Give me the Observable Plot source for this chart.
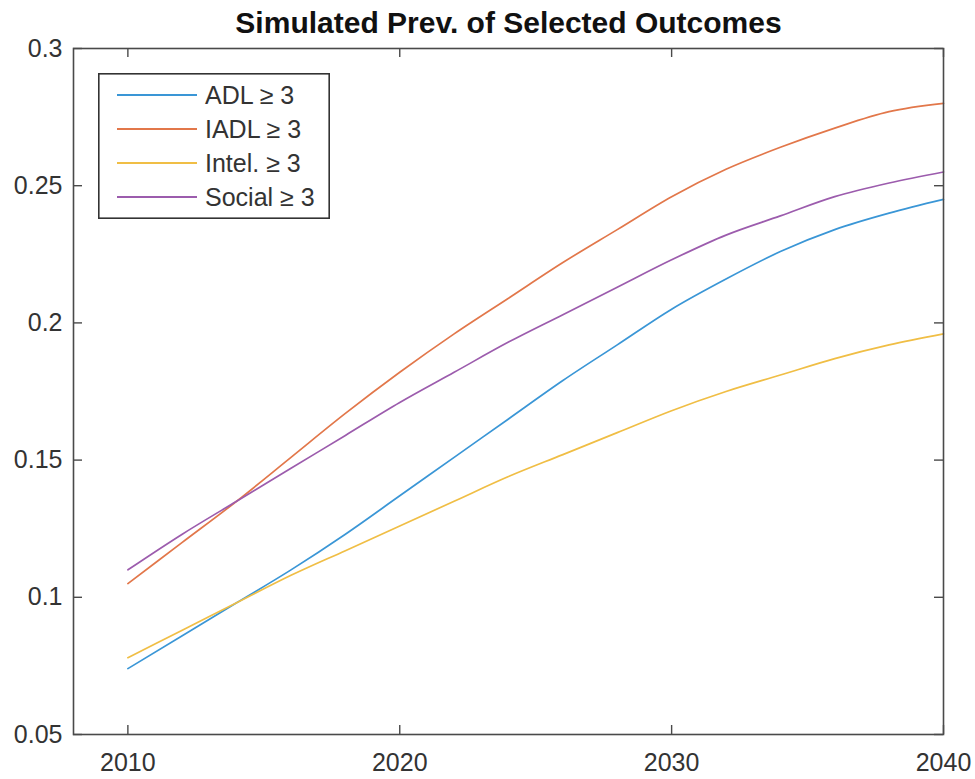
<!DOCTYPE html>
<html>
<head>
<meta charset="utf-8">
<script src="https://cdn.jsdelivr.net/npm/d3@7"></script>
<script src="https://cdn.jsdelivr.net/npm/@observablehq/plot@0.6"></script>
<style>
  html, body { margin: 0; padding: 0; background: #fff; }
  #wrap { position: relative; width: 975px; height: 779px; }
  #legend { position: absolute; left: 98px; top: 73px; }
</style>
</head>
<body>
<div id="wrap"></div>
<script>
const titleText = "Simulated Prev. of Selected Outcomes";
const years = [2010, 2012, 2014, 2016, 2018, 2020, 2022, 2024, 2026, 2028, 2030, 2032, 2034, 2036, 2038, 2040];
const adl    = [0.074, 0.086, 0.098, 0.110, 0.123, 0.137, 0.151, 0.165, 0.179, 0.192, 0.205, 0.216, 0.226, 0.234, 0.240, 0.245];
const iadl   = [0.105, 0.120, 0.135, 0.151, 0.167, 0.182, 0.196, 0.209, 0.222, 0.234, 0.246, 0.256, 0.264, 0.271, 0.277, 0.280];
const intel  = [0.078, 0.088, 0.098, 0.108, 0.117, 0.126, 0.135, 0.144, 0.152, 0.160, 0.168, 0.175, 0.181, 0.187, 0.192, 0.196];
const social = [0.110, 0.123, 0.135, 0.147, 0.159, 0.171, 0.182, 0.193, 0.203, 0.213, 0.223, 0.232, 0.239, 0.246, 0.251, 0.255];
const seriesNames = ["ADL \u2265 3", "IADL \u2265 3", "Intel. \u2265 3", "Social \u2265 3"];
const seriesColors = ["#3a96d6", "#e2774a", "#f0be45", "#9c5cad"];
const xTicks = [2010, 2020, 2030, 2040];
const yTicks = [0.05, 0.1, 0.15, 0.2, 0.25, 0.3];

const seriesValues = [adl, iadl, intel, social];
const data = seriesNames.flatMap((name, s) =>
  years.map((yr, i) => ({year: yr, value: seriesValues[s][i], series: name})));

const W = 975, H = 779;
const mL = 73, mR = 32, mT = 48, mB = 45;
const innerW = W - mL - mR, innerH = H - mT - mB;
const tickLen = 9;
const axisColor = "#4a4a4a";
const fontFam = "'Liberation Sans', Arial, Helvetica, sans-serif";

const plot = Plot.plot({
  width: W, height: H,
  marginLeft: mL, marginRight: mR, marginTop: mT, marginBottom: mB,
  x: {domain: [2008, 2040]},
  y: {domain: [0.05, 0.3]},
  color: {domain: seriesNames, range: seriesColors},
  style: {fontFamily: fontFam, fontSize: "25px", color: "#333", background: "#fff", overflow: "visible"},
  marks: [
    Plot.line(data, {x: "year", y: "value", stroke: "series", strokeWidth: 1.7, curve: "monotone-x"}),
    Plot.frame({stroke: axisColor, strokeWidth: 1.6}),
    Plot.tickX(xTicks, {x: d => d, insetTop: innerH - tickLen, stroke: axisColor, strokeWidth: 1.4}),
    Plot.tickX(xTicks, {x: d => d, insetBottom: innerH - tickLen, stroke: axisColor, strokeWidth: 1.4}),
    Plot.tickY(yTicks, {y: d => d, insetRight: innerW - tickLen, stroke: axisColor, strokeWidth: 1.4}),
    Plot.tickY(yTicks, {y: d => d, insetLeft: innerW - tickLen, stroke: axisColor, strokeWidth: 1.4}),
    Plot.axisX({ticks: xTicks, tickSize: 0, tickPadding: 19, tickFormat: d => String(d), label: null, fill: "#333"}),
    Plot.axisY({ticks: yTicks, tickSize: 0, tickPadding: 11, tickFormat: d => String(d), label: null, fill: "#333"}),
    Plot.text([titleText], {frameAnchor: "top", lineAnchor: "middle", dy: -25, fontWeight: "bold", fontSize: 30, fill: "#111"})
  ]
});

const wrap = document.getElementById("wrap");
wrap.appendChild(plot);

// Legend overlay (drawn from the same color scale)
const colorScale = plot.scale("color");
const lg = d3.create("svg")
  .attr("id", "legend")
  .attr("width", 232).attr("height", 146)
  .style("font-family", fontFam)
  .style("font-size", "25px");
lg.append("rect").attr("x", 0.8).attr("y", 0.8).attr("width", 230.4).attr("height", 144.4)
  .attr("fill", "#fff").attr("stroke", "#333").attr("stroke-width", 1.6);
seriesNames.forEach((name, i) => {
  const cy = 22 + i * 34;
  const col = colorScale.range[colorScale.domain.indexOf(name)];
  lg.append("line").attr("x1", 19).attr("x2", 99).attr("y1", cy).attr("y2", cy)
    .attr("stroke", col).attr("stroke-width", 1.8);
  lg.append("text").attr("x", 107).attr("y", cy).attr("dy", "0.35em")
    .attr("fill", "#333").text(name);
});
wrap.appendChild(lg.node());
</script>
</body>
</html>
